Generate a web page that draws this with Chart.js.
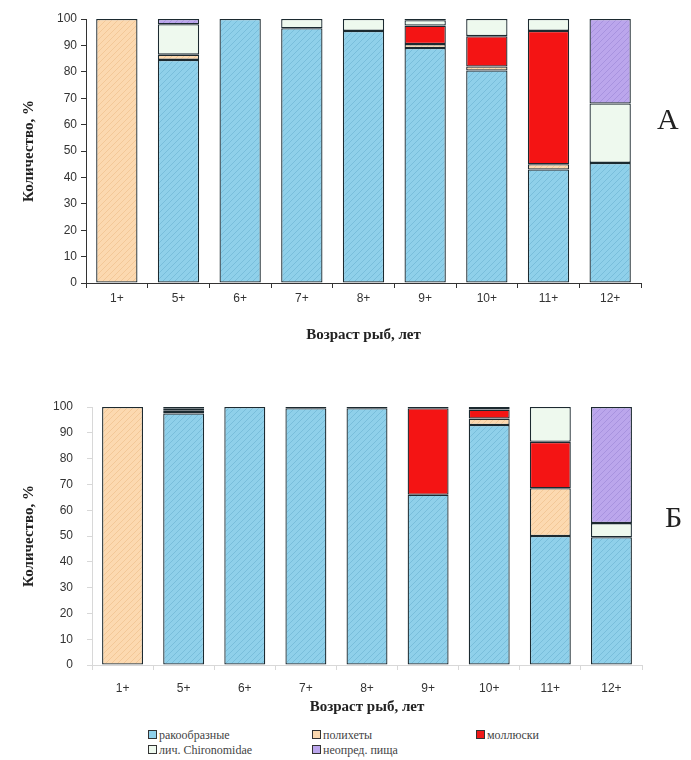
<!DOCTYPE html>
<html>
<head>
<meta charset="utf-8">
<script src="https://cdn.jsdelivr.net/npm/chart.js@4/dist/chart.umd.min.js"></script>
<style>
  body { margin: 0; background: #fff; width: 691px; height: 760px; position: relative; overflow: hidden; }
  .box { position: absolute; left: 0; width: 691px; }
  .letter { position: absolute; font-family: 'Liberation Serif', serif; font-size: 30px; color: #222; }
  .leg { position: absolute; font-family: 'Liberation Serif', serif; font-size: 12px; color: #444; white-space: nowrap; }
  .leg i { display: inline-block; width: 7px; height: 7px; border: 1px solid #333; margin-right: 2px; vertical-align: 0px; }
</style>
</head>
<body>
<div class="box" style="top:0;height:350px"><canvas id="chartA"></canvas></div>
<div class="box" style="top:385px;height:335px"><canvas id="chartB"></canvas></div>
<div class="letter" style="left:657px;top:102px">А</div>
<div class="letter" style="left:665px;top:500px">Б</div>
<div class="leg" style="left:148px;top:728px"><i style="background:#8fd0ea"></i>ракообразные</div>
<div class="leg" style="left:312px;top:728px"><i style="background:#fcd9b0"></i>полихеты</div>
<div class="leg" style="left:476px;top:728px"><i style="background:#f01818"></i>моллюски</div>
<div class="leg" style="left:148px;top:743px"><i style="background:#eef9ee"></i>лич. Chironomidae</div>
<div class="leg" style="left:312px;top:743px"><i style="background:#bba6ec"></i>неопред. пища</div>
<script>
const ages = ['1+', '5+', '6+', '7+', '8+', '9+', '10+', '11+', '12+'];
const groups = ['ракообразные', 'полихеты', 'моллюски', 'лич. Chironomidae', 'неопред. пища'];

// А
const crustA  = [0, 84.5, 100, 96.5, 95.5, 89, 80.5, 43, 45.5];
const polyA   = [100, 2, 0, 0, 0, 1.5, 1.5, 2, 0];
const mollA   = [0, 0, 0, 0, 0, 7, 11.5, 50.5, 0];
const chironA = [0, 11.5, 0, 3.5, 4.5, 2, 6.5, 4.5, 22.5];
const unidA   = [0, 2, 0, 0, 0, 0.5, 0, 0, 32];

// Б
const crustB  = [0, 97.5, 100, 99.5, 99.5, 66, 93, 50, 49.5];
const polyB   = [100, 0, 0, 0, 0, 0, 2.5, 18.5, 0];
const mollB   = [0, 1, 0, 0.5, 0.5, 33.5, 3.5, 18, 0];
const chironB = [0, 1, 0, 0, 0, 0, 1, 13.5, 5.5];
const unidB   = [0, 0.5, 0, 0, 0, 0.5, 0, 0, 45];

const yTicks = [0, 10, 20, 30, 40, 50, 60, 70, 80, 90, 100];

// hatched fills like the scanned print
function hatch(base, line) {
  const c = document.createElement('canvas');
  c.width = 6; c.height = 6;
  const g = c.getContext('2d');
  g.fillStyle = base; g.fillRect(0, 0, 6, 6);
  g.strokeStyle = line; g.lineWidth = 1;
  g.beginPath(); g.moveTo(0, 6); g.lineTo(6, 0); g.stroke();
  g.beginPath(); g.moveTo(-1, 1); g.lineTo(1, -1); g.stroke();
  g.beginPath(); g.moveTo(5, 7); g.lineTo(7, 5); g.stroke();
  return g.createPattern(c, 'repeat');
}
const fills = [
  hatch('#8fd0ea', '#79bedb'),
  hatch('#fcd9b0', '#f3c898'),
  '#f41414',
  '#eef9ee',
  hatch('#bba6ec', '#a893df')
];

function makeChart(id, series, o) {
  const datasets = series.map((s, i) => ({
    label: groups[i],
    data: s.map(v => v || null),
    backgroundColor: fills[i],
    borderColor: '#1c2a30',
    borderWidth: 1.3,
    borderSkipped: false,
    barPercentage: 0.67,
    categoryPercentage: 1
  }));
  new Chart(document.getElementById(id), {
    type: 'bar',
    data: { labels: ages, datasets },
    options: {
      responsive: true,
      maintainAspectRatio: false,
      animation: false,
      layout: { padding: { top: o.top, right: o.right, left: 0, bottom: 0 } },
      plugins: { legend: { display: false }, tooltip: { enabled: false } },
      scales: {
        x: {
          stacked: true,
          afterFit: s => { s.height = o.xh; },
          grid: { offset: true, drawOnChartArea: false, tickLength: 5, color: o.axis },
          border: { color: o.axis },
          ticks: { color: '#333', font: { family: 'Liberation Sans', size: 12 }, padding: o.xpad },
          title: { display: true, text: 'Возраст рыб, лет', color: '#222',
                   font: { family: 'Liberation Serif', size: 15, weight: 'bold' },
                   padding: { top: 0, bottom: o.tpad } }
        },
        y: {
          stacked: true, min: 0, max: 100,
          afterFit: s => { s.width = o.yw; },
          afterBuildTicks: s => { s.ticks = yTicks.map(v => ({ value: v })); },
          grid: { drawOnChartArea: false, tickLength: 5, color: o.axis },
          border: { color: o.axis },
          ticks: { color: '#333', font: { family: 'Liberation Sans', size: 12 }, padding: o.ypad },
          title: { display: true, text: 'Количество, %', color: '#222',
                   font: { family: 'Liberation Serif', size: 15, weight: 'bold' },
                   padding: { top: 20, bottom: 0 } }
        }
      }
    }
  });
}

makeChart('chartA', [crustA, polyA, mollA, chironA, unidA],
  { top: 19, right: 50, xh: 67, yw: 86, xpad: 3, tpad: 6, ypad: 4, axis: '#333' });
makeChart('chartB', [crustB, polyB, mollB, chironB, unidB],
  { top: 22, right: 49, xh: 55, yw: 92, xpad: 11, tpad: 4, ypad: 14, axis: '#d8d8d8' });
</script>
</body>
</html>
